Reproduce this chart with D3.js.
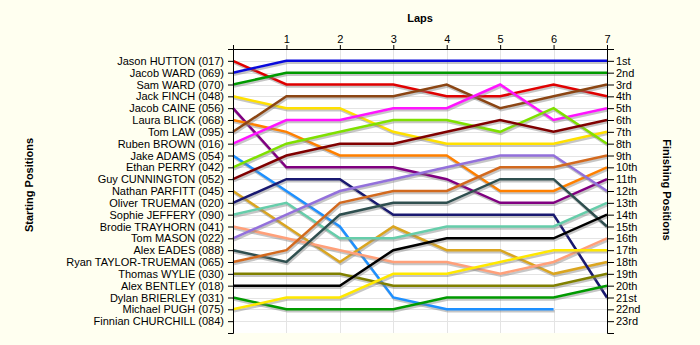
<!DOCTYPE html>
<html>
<head>
<meta charset="utf-8">
<script src="https://cdn.jsdelivr.net/npm/d3@7"></script>
<style>
  body { margin: 0; background: #FFFFF0; }
  svg { display: block; font-family: "Liberation Sans", Arial, sans-serif; }
</style>
</head>
<body>
<svg id="chart" width="700" height="345"></svg>
<script>
// Grid order (starting position order)
const drivers = [
  "Jason HUTTON (017)", "Jacob WARD (069)", "Sam WARD (070)", "Jack FINCH (048)",
  "Jacob CAINE (056)", "Laura BLICK (068)", "Tom LAW (095)", "Ruben BROWN (016)",
  "Jake ADAMS (054)", "Ethan PERRY (042)", "Guy CUNNINGTON (052)", "Nathan PARFITT (045)",
  "Oliver TRUEMAN (020)", "Sophie JEFFERY (090)", "Brodie TRAYHORN (041)", "Tom MASON (022)",
  "Alex EADES (088)", "Ryan TAYLOR-TRUEMAN (065)", "Thomas WYLIE (030)", "Alex BENTLEY (018)",
  "Dylan BRIERLEY (031)", "Michael PUGH (075)", "Finnian CHURCHILL (084)"
];

const laps = [0, 1, 2, 3, 4, 5, 6, 7];
const lapTickLabels = ["", "1", "2", "3", "4", "5", "6", "7"];

const finishLabels = [
  "1st", "2nd", "3rd", "4th", "5th", "6th", "7th", "8th", "9th", "10th", "11th", "12th",
  "13th", "14th", "15th", "16th", "17th", "18th", "19th", "20th", "21st", "22nd", "23rd"
];

// Position of each driver at the start (lap 0) and after laps 1..7; null = retired
const lapPositions = [
  [1, 3, 3, 3, 4, 4, 3, 4],
  [2, 1, 1, 1, 1, 1, 1, 1],
  [3, 2, 2, 2, 2, 2, 2, 2],
  [4, 5, 5, 7, 8, 8, 8, 7],
  [5, 10, 10, 10, 11, 13, 13, 11],
  [6, 7, 9, 9, 9, 12, 12, 10],
  [7, 4, 4, 4, 3, 5, 4, 3],
  [8, 6, 6, 5, 5, 3, 6, 5],
  [9, 12, 15, 21, 22, 22, 22, null],
  [10, 8, 7, 6, 6, 7, 5, 8],
  [11, 9, 8, 8, 7, 6, 7, 6],
  [12, 15, 18, 15, 17, 17, 19, 18],
  [13, 11, 11, 14, 14, 14, 14, 21],
  [14, 13, 16, 16, 15, 15, 15, 13],
  [15, 16, 17, 18, 18, 19, 18, 16],
  [16, 14, 12, 11, 10, 9, 9, 12],
  [17, 18, 14, 13, 13, 11, 11, 15],
  [18, 17, 13, 12, 12, 10, 10, 9],
  [19, 19, 19, 20, 20, 20, 20, 19],
  [20, 20, 20, 17, 16, 16, 16, 14],
  [21, 22, 22, 22, 21, 21, 21, 20],
  [22, 21, 21, 19, 19, 18, 17, 17],
  []
];

const lineColors = [
  "#E00000", "#0A0ADC", "#009A00", "#FFE000", "#800080", "#FF8000", "#8B4513", "#FF14FF",
  "#1E90FF", "#7FE000", "#800000", "#DAA520", "#191970", "#66CDAA", "#FFA07A", "#9370DB",
  "#2F4F4F", "#D2691E", "#808000", "#000000", "#009A00", "#FFE800", "#000000"
];

const svg = d3.select("#chart");
const plotLeft = 233, plotRight = 607, plotTop = 49, plotBottom = 333;

const x = d3.scaleLinear().domain([0, 7]).range([plotLeft, plotRight]);
const y = d3.scaleLinear().domain([0, 24]).range([plotTop, plotBottom]);
const posTicks = d3.range(1, drivers.length + 1);

// plot background
svg.append("rect")
  .attr("x", plotLeft).attr("y", plotTop)
  .attr("width", plotRight - plotLeft).attr("height", plotBottom - plotTop)
  .attr("fill", "#FFFFFF");

// grid
const grid = svg.append("g").attr("stroke", "#E4E4E4").attr("stroke-width", 1);
grid.selectAll("line.h").data(posTicks).join("line")
  .attr("class", "h")
  .attr("x1", plotLeft).attr("x2", plotRight)
  .attr("y1", d => Math.round(y(d)) + 0.5).attr("y2", d => Math.round(y(d)) + 0.5);
grid.selectAll("line.v").data(laps.slice(1, -1)).join("line")
  .attr("class", "v")
  .attr("y1", plotTop).attr("y2", plotBottom)
  .attr("x1", d => Math.round(x(d)) + 0.5).attr("x2", d => Math.round(x(d)) + 0.5);

// position lines
const line = d3.line()
  .defined(d => d.pos != null)
  .x(d => x(d.lap))
  .y(d => y(d.pos));

const series = lapPositions.map((p, i) => ({
  color: lineColors[i],
  points: p.map((pos, lap) => ({ lap, pos }))
})).filter(s => s.points.length > 0);

const lines = svg.append("g").attr("fill", "none").attr("stroke-linejoin", "miter");
series.forEach(s => {
  lines.append("path")
    .attr("d", line(s.points))
    .attr("transform", "translate(1,2)")
    .attr("stroke", "#808080")
    .attr("stroke-opacity", 0.45)
    .attr("stroke-width", 2.5);
  lines.append("path")
    .attr("d", line(s.points))
    .attr("stroke", s.color)
    .attr("stroke-width", 2.5);
});

// axes
const fontSize = "11px";
const leftAxis = d3.axisLeft(y)
  .tickValues(posTicks)
  .tickFormat(d => drivers[d - 1])
  .tickSize(5).tickPadding(4);
const rightAxis = d3.axisRight(y)
  .tickValues(posTicks)
  .tickFormat(d => finishLabels[d - 1])
  .tickSize(7).tickPadding(2);
const topAxis = d3.axisTop(x)
  .tickValues(laps)
  .tickFormat(d => lapTickLabels[d])
  .tickSize(4).tickPadding(2);

function styleAxis(g) {
  g.selectAll("path, line").attr("stroke", "#000").attr("stroke-width", 1);
  g.selectAll("text").attr("fill", "#000").style("font-size", fontSize)
    .style("font-family", "'Liberation Sans', Arial, sans-serif");
}

svg.append("g").attr("transform", `translate(${plotLeft},0)`).call(leftAxis).call(styleAxis);
svg.append("g").attr("transform", `translate(${plotRight},0)`).call(rightAxis).call(styleAxis);
svg.append("g").attr("transform", `translate(0,${plotTop})`).call(topAxis).call(styleAxis);

// titles
svg.append("text")
  .attr("x", (plotLeft + plotRight) / 2).attr("y", 22)
  .attr("text-anchor", "middle")
  .style("font-size", "11px").style("font-weight", "bold")
  .text("Laps");

svg.append("text")
  .attr("transform", "translate(33,185) rotate(-90)")
  .attr("text-anchor", "middle")
  .style("font-size", "11px").style("font-weight", "bold")
  .text("Starting Positions");

svg.append("text")
  .attr("transform", "translate(663,190) rotate(90)")
  .attr("text-anchor", "middle")
  .style("font-size", "11px").style("font-weight", "bold")
  .text("Finishing Positions");
</script>
</body>
</html>
